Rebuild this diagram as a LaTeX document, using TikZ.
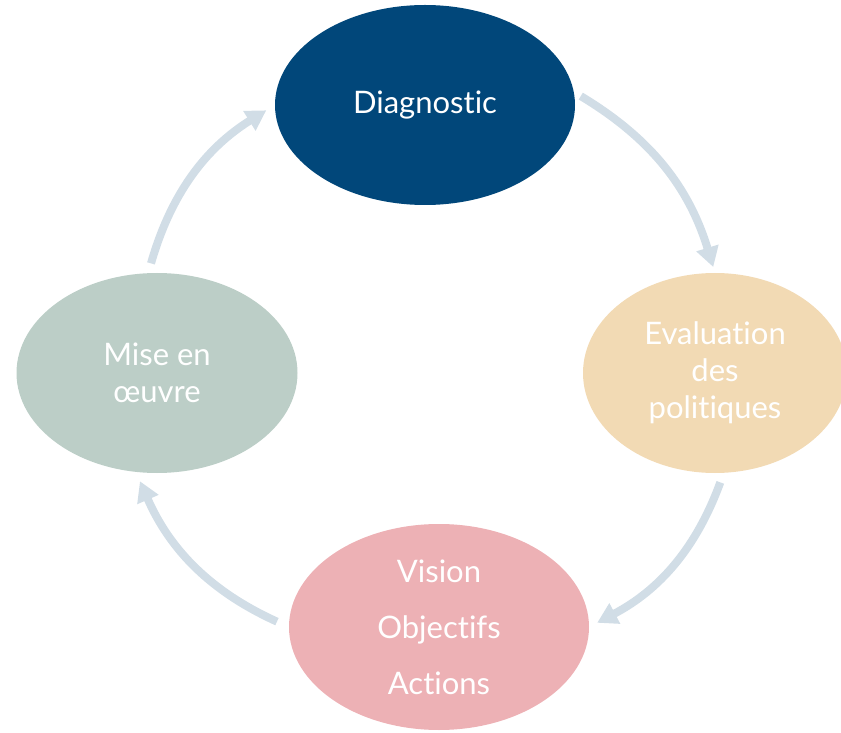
\documentclass[tikz,border=0pt]{standalone}
\usepackage{fontspec}
\setmainfont{Lato}[Ligatures=NoCommon]
\usetikzlibrary{arrows.meta,shapes.geometric}

\definecolor{diagblue}{RGB}{1,71,122}
\definecolor{evalsand}{RGB}{242,218,180}
\definecolor{visionpink}{RGB}{237,177,181}
\definecolor{misegreen}{RGB}{188,206,199}
\definecolor{arrowgrey}{RGB}{209,221,230}

\begin{document}
\begin{tikzpicture}[x=1pt,y=1pt,
    phase/.style={ellipse,inner sep=0pt,text=white,align=center,
      font=\fontsize{31}{37}\selectfont},
    cycle/.style={line width=8pt,arrowgrey,
      -{Triangle[width=22pt,length=20pt]},bend left=21}]
  \useasboundingbox (0,0) rectangle (841,732);

  \node[phase,fill=diagblue,minimum width=300,minimum height=200] (diag) at (425,627) {Diagnostic};
  \node[phase,fill=evalsand,minimum width=264,minimum height=200] (eval) at (715,359) {Evaluation\\des\\politiques};
  \node[phase,fill=visionpink,minimum width=300,minimum height=206,
    font=\fontsize{31}{56}\selectfont] (vision) at (439,105) {Vision\\Objectifs\\Actions};
  \node[phase,fill=misegreen,minimum width=281,minimum height=200] (mise) at (157,359) {Mise en\\œuvre};

  \draw[cycle,shorten <=8pt,shorten >=6pt] (diag.5) to (eval.north);
  \draw[cycle,shorten <=10pt,shorten >=9pt] (eval.275) to (vision.east);
  \draw[cycle,shorten <=13pt,shorten >=10pt] (vision.west) to (mise.258);
  \draw[cycle,shorten <=10pt,shorten >=10pt] (mise.95) to (diag.west);
\end{tikzpicture}
\end{document}
